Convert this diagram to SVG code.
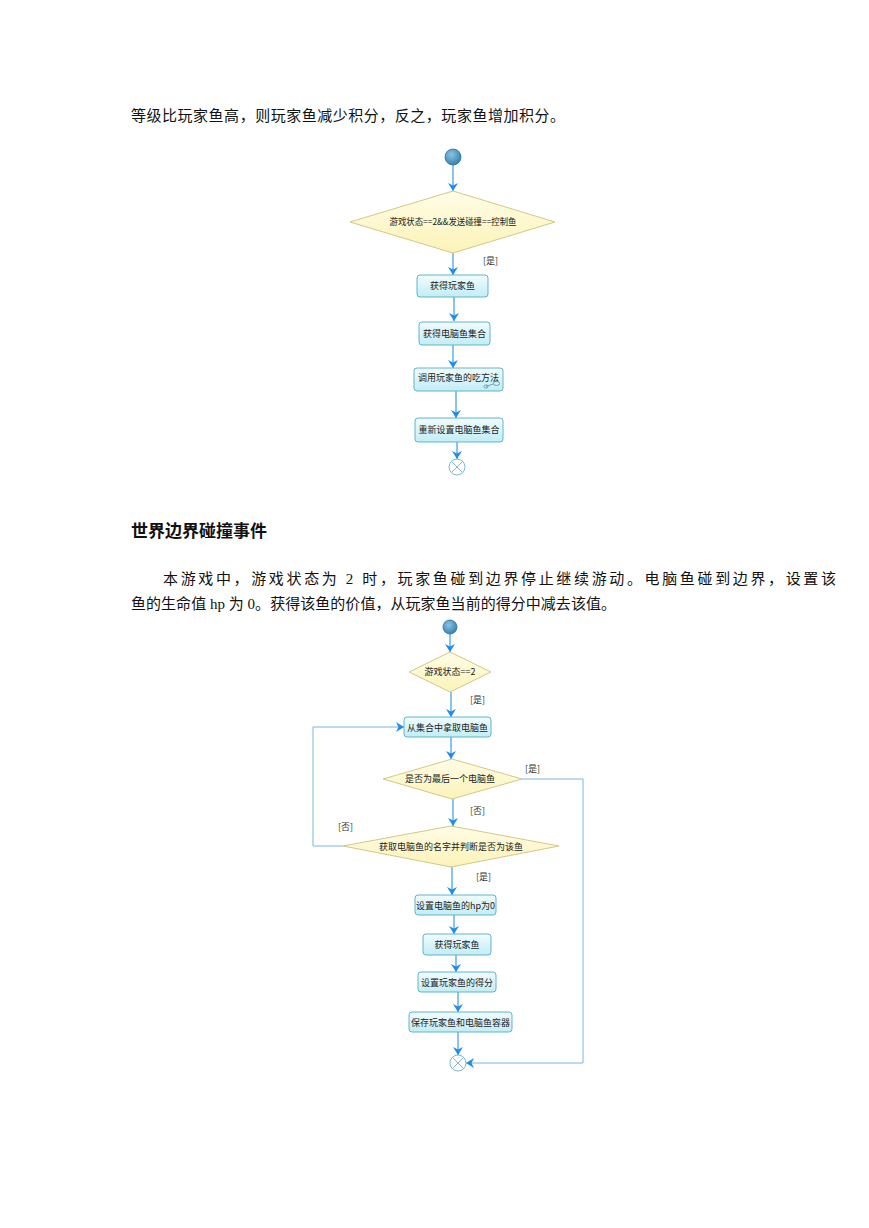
<svg xmlns="http://www.w3.org/2000/svg" width="869" height="1228" viewBox="0 0 869 1228">
<defs>
<linearGradient id="boxg" x1="0" y1="0" x2="0" y2="1">
<stop offset="0" stop-color="#F2FCFE"/>
<stop offset="1" stop-color="#C2EDF5"/>
</linearGradient>
<linearGradient id="diag" x1="0" y1="0" x2="0" y2="1">
<stop offset="0" stop-color="#FFFDE6"/>
<stop offset="1" stop-color="#FBF3B8"/>
</linearGradient>
<radialGradient id="startg" cx="0.4" cy="0.35" r="0.7">
<stop offset="0" stop-color="#8CC4E2"/>
<stop offset="1" stop-color="#2F7FAE"/>
</radialGradient>
<marker id="arr" markerWidth="8" markerHeight="10" refX="8" refY="5" orient="auto" markerUnits="userSpaceOnUse">
<path d="M0,0 L8,5 L0,10 L2.5,5 z" fill="#1E8CF0"/>
</marker>
</defs>
<style>
.t{font-family:"Liberation Serif","Noto Sans CJK SC",serif;fill:#111}
.n{font-family:"Noto Sans CJK SC",sans-serif;font-size:9px;fill:#222;text-anchor:middle}
.g{font-family:"Noto Sans CJK SC",sans-serif;font-size:9px;fill:#333}
.box{fill:url(#boxg);stroke:#5FB4CC;stroke-width:1}
.dia{fill:url(#diag);stroke:#D2C888;stroke-width:1}
.start{fill:url(#startg);stroke:#2A6E96;stroke-width:0.8}
.end{fill:#fff;stroke:#7FB8D6;stroke-width:1}
.c{fill:none;stroke:#3C9AE6;stroke-width:1.2}
.c2{fill:none;stroke:#78B6E0;stroke-width:1}
</style>
<rect width="869" height="1228" fill="#fff"/>
<text class="t" x="131" y="121" font-size="15" textLength="434" lengthAdjust="spacing">等级比玩家鱼高，则玩家鱼减少积分，反之，玩家鱼增加积分。</text>
<text class="t" x="131" y="537" font-size="17" font-weight="bold" textLength="136" lengthAdjust="spacing">世界边界碰撞事件</text>
<text class="t" x="163" y="584" font-size="15" textLength="673" lengthAdjust="spacing">本游戏中，游戏状态为 2 时，玩家鱼碰到边界停止继续游动。电脑鱼碰到边界，设置该</text>
<text class="t" x="131" y="609" font-size="15" textLength="485" lengthAdjust="spacing">鱼的生命值 hp 为 0。获得该鱼的价值，从玩家鱼当前的得分中减去该值。</text>

<g id="connectors">
<line class="c" x1="453" y1="165" x2="453" y2="191" marker-end="url(#arr)"/>
<line class="c" x1="453" y1="253" x2="453" y2="275" marker-end="url(#arr)"/>
<line class="c" x1="454" y1="297" x2="454" y2="321" marker-end="url(#arr)"/>
<line class="c" x1="453" y1="345" x2="453" y2="368" marker-end="url(#arr)"/>
<line class="c" x1="456" y1="391" x2="456" y2="418" marker-end="url(#arr)"/>
<line class="c" x1="457" y1="442" x2="457" y2="459" marker-end="url(#arr)"/>

<line class="c" x1="450" y1="634" x2="450" y2="652" marker-end="url(#arr)"/>
<line class="c" x1="451" y1="692" x2="451" y2="717" marker-end="url(#arr)"/>
<line class="c" x1="451" y1="737" x2="451" y2="759" marker-end="url(#arr)"/>
<line class="c" x1="453" y1="799" x2="453" y2="826" marker-end="url(#arr)"/>
<polyline class="c2" points="343,846 313,846 313,727 404,727" marker-end="url(#arr)"/>
<line class="c" x1="452" y1="867" x2="452" y2="895" marker-end="url(#arr)"/>
<line class="c" x1="454" y1="915" x2="454" y2="934" marker-end="url(#arr)"/>
<line class="c" x1="456" y1="955" x2="456" y2="972" marker-end="url(#arr)"/>
<line class="c" x1="458" y1="992" x2="458" y2="1012" marker-end="url(#arr)"/>
<line class="c" x1="458" y1="1032" x2="458" y2="1055" marker-end="url(#arr)"/>
<polyline class="c2" points="522,779 583,779 583,1063 466,1063" marker-end="url(#arr)"/>

<text class="g" x="483" y="264">[是]</text>
<text class="g" x="470" y="703">[是]</text>
<text class="g" x="525" y="772">[是]</text>
<text class="g" x="470" y="814">[否]</text>
<text class="g" x="338" y="830">[否]</text>
<text class="g" x="476" y="880">[是]</text>
</g>

<g id="start1"><circle class="start" cx="453" cy="157" r="8"/></g>
<g id="dec1">
<polygon class="dia" points="350,222 453,191 555,222 453,253"/>
<text class="n" x="453" y="225" textLength="127" lengthAdjust="spacingAndGlyphs">游戏状态==2&amp;&amp;发送碰撞==控制鱼</text>
</g>
<g id="a1"><rect class="box" x="417" y="275" width="71" height="22" rx="3"/><text class="n" x="452.5" y="289">获得玩家鱼</text></g>
<g id="a2"><rect class="box" x="419" y="322" width="71" height="23" rx="3"/><text class="n" x="454.5" y="336.5">获得电脑鱼集合</text></g>
<g id="a3"><rect class="box" x="414" y="368" width="89" height="23" rx="3"/><text class="n" x="458.5" y="381">调用玩家鱼的吃方法</text>
<path d="M486,386.5 L493,384 M496.5,383.5 m-3.2,0 a3.2,2 0 1,0 6.4,0 a3.2,2 0 1,0 -6.4,0 M486,386.5 m-2,0 a2,1.6 0 1,0 4,0 a2,1.6 0 1,0 -4,0" fill="none" stroke="#4A8FB0" stroke-width="0.8"/></g>
<g id="a4"><rect class="box" x="415" y="418" width="88" height="24" rx="3"/><text class="n" x="459" y="433">重新设置电脑鱼集合</text></g>
<g id="end1"><circle class="end" cx="457" cy="467" r="8"/><path d="M451.3,461.3 L462.7,472.7 M462.7,461.3 L451.3,472.7" stroke="#7FB8D6" stroke-width="1"/></g>

<g id="start2"><circle class="start" cx="450" cy="627" r="7"/></g>
<g id="dec2"><polygon class="dia" points="409,672 450,652 491,672 450,692"/><text class="n" x="450" y="675">游戏状态==2</text></g>
<g id="b1"><rect class="box" x="404" y="717" width="87" height="20" rx="3"/><text class="n" x="447.5" y="730.5">从集合中拿取电脑鱼</text></g>
<g id="dec3"><polygon class="dia" points="383,779 452,759 522,779 452,799"/><text class="n" x="450" y="782">是否为最后一个电脑鱼</text></g>
<g id="dec4"><polygon class="dia" points="343,846 451,826 559,846 451,867"/><text class="n" x="451" y="849.5">获取电脑鱼的名字并判断是否为该鱼</text></g>
<g id="b2"><rect class="box" x="415" y="895" width="81" height="20" rx="3"/><text class="n" x="455.5" y="908.5">设置电脑鱼的hp为0</text></g>
<g id="b3"><rect class="box" x="423" y="934" width="68" height="21" rx="3"/><text class="n" x="457" y="948">获得玩家鱼</text></g>
<g id="b4"><rect class="box" x="418" y="972" width="78" height="20" rx="3"/><text class="n" x="457" y="985.5">设置玩家鱼的得分</text></g>
<g id="b5"><rect class="box" x="409" y="1012" width="103" height="20" rx="3"/><text class="n" x="460.5" y="1025.5">保存玩家鱼和电脑鱼容器</text></g>
<g id="end2"><circle class="end" cx="458" cy="1063" r="8"/><path d="M452.3,1057.3 L463.7,1068.7 M463.7,1057.3 L452.3,1068.7" stroke="#7FB8D6" stroke-width="1"/></g>
</svg>
